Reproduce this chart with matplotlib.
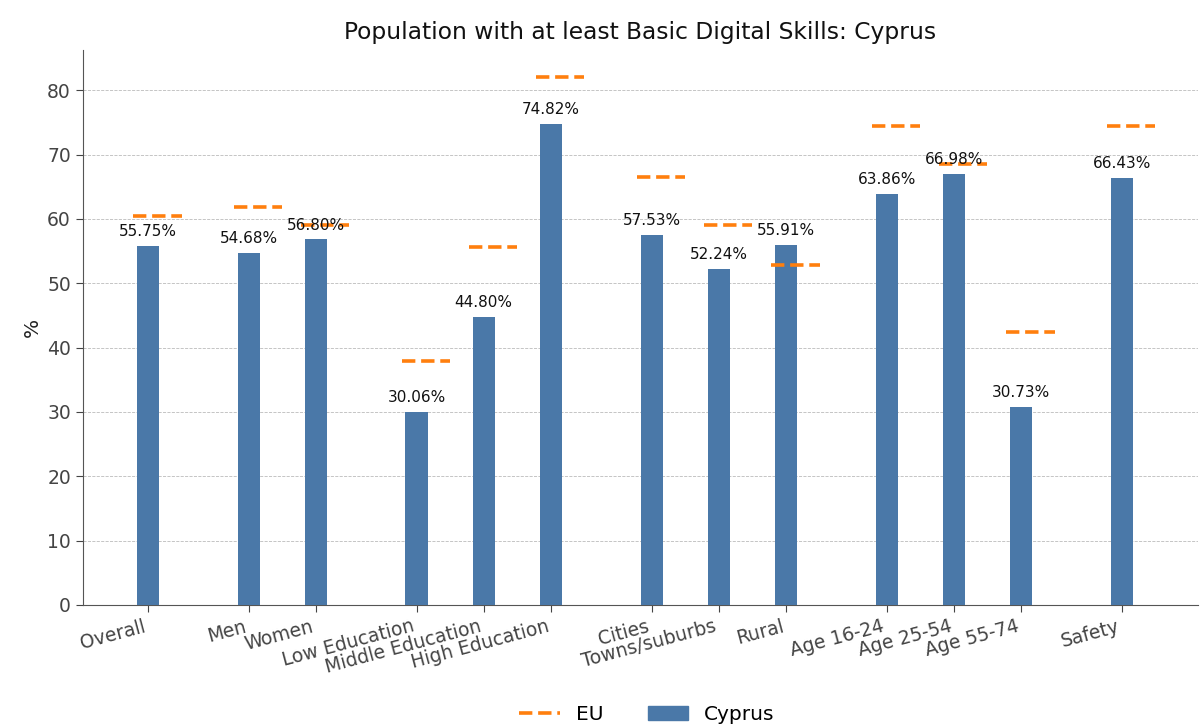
import matplotlib.pyplot as plt
from matplotlib.lines import Line2D
from matplotlib.patches import Patch

categories = ['Overall', 'Men', 'Women', 'Low Education', 'Middle Education',
              'High Education', 'Cities', 'Towns/suburbs', 'Rural',
              'Age 16-24', 'Age 25-54', 'Age 55-74', 'Safety']
positions = [0, 1.5, 2.5, 4, 5, 6, 7.5, 8.5, 9.5, 11, 12, 13, 14.5]
cyprus = [55.75, 54.68, 56.80, 30.06, 44.80, 74.82, 57.53, 52.24, 55.91,
          63.86, 66.98, 30.73, 66.43]
eu = [60.4, 61.8, 59.0, 37.9, 55.6, 82.1, 66.5, 59.0, 52.8,
      74.5, 68.6, 42.5, 74.5]

bar_color = '#4a78a8'
eu_color = '#ff7f0e'
axis_gray = '#444444'

fig = plt.figure(figsize=(12, 7.26), dpi=100)
ax = fig.add_axes([0.069, 0.1667, 0.929, 0.764])

ax.bar(positions, cyprus, width=0.33, color=bar_color, zorder=3)
for x, v in zip(positions, eu):
    ax.hlines(v, x - 0.22, x + 0.5, colors=eu_color, linestyles='--',
              linewidth=2.6, zorder=4)

for x, v in zip(positions, cyprus):
    ax.annotate(f'{v:.2f}%', (x, v), xytext=(0, 5), textcoords='offset points',
                ha='center', va='bottom', fontsize=11, color='#111111', zorder=5)

ax.set_xticks(positions)
ax.set_xticklabels(categories, rotation=15, ha='right', fontsize=13.5, color=axis_gray)
ax.tick_params(axis='y', labelsize=13.5, labelcolor=axis_gray)
ax.tick_params(colors=axis_gray, length=5)
ax.set_xlim(-0.97, 15.63)
ax.set_ylim(0, 86.2)
ax.set_ylabel('%', fontsize=14.5, color='#222222')
ax.set_title('Population with at least Basic Digital Skills: Cyprus', fontsize=16.8,
             pad=8, color='#111111')
ax.yaxis.grid(True, linestyle='--', linewidth=0.6, color='#bbbbbb', zorder=0)
ax.set_axisbelow(True)
ax.spines['top'].set_visible(False)
ax.spines['right'].set_visible(False)
ax.spines['left'].set_color('#555555')
ax.spines['bottom'].set_color('#555555')

handles = [Line2D([0], [0], color=eu_color, linestyle='--', linewidth=2.6),
           Patch(color=bar_color)]
ax.legend(handles, ['EU', 'Cyprus'], loc='center', bbox_to_anchor=(0.506, -0.198),
          ncol=2, frameon=False, fontsize=14.5, columnspacing=2.2)

fig.savefig('out.png', dpi=100)
